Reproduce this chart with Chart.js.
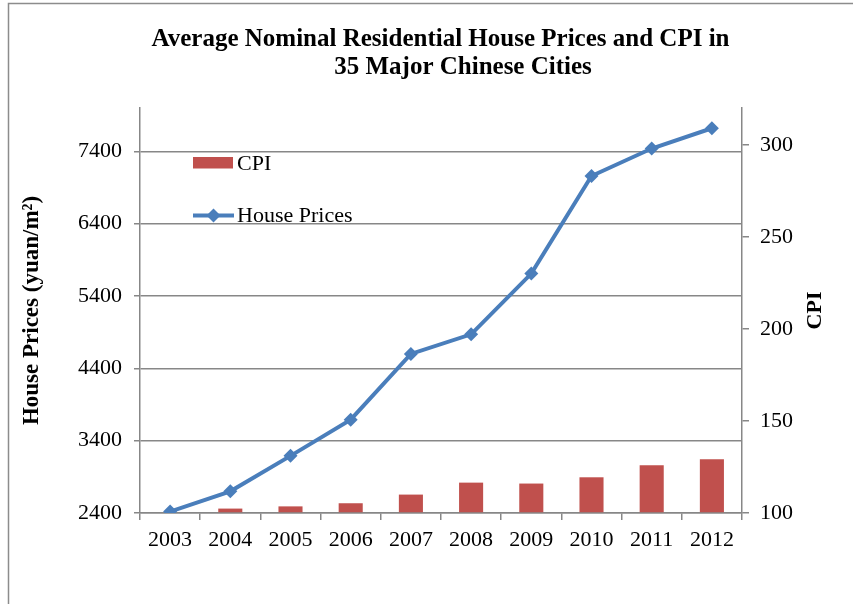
<!DOCTYPE html>
<html>
<head>
<meta charset="utf-8">
<title>House Prices and CPI</title>
<script src="https://cdn.jsdelivr.net/npm/chart.js@4.4.0/dist/chart.umd.min.js"></script>
<style>
  html, body { margin: 0; padding: 0; background: #fff; }
  #wrap { width: 853px; height: 604px; }
</style>
</head>
<body>
<div id="wrap"><canvas id="chart" width="853" height="604"></canvas></div>
<script>
// ===================== DATA ===================== //
const years = ["2003", "2004", "2005", "2006", "2007", "2008", "2009", "2010", "2011", "2012"];
const housePrices = [2420, 2700, 3190, 3690, 4600, 4870, 5710, 7060, 7440, 7720];
const cpi = [100, 102.4, 103.6, 105.3, 110, 116.5, 116, 119.4, 125.9, 129.2];
const priceTicks = [2400, 3400, 4400, 5400, 6400, 7400];
const cpiTicks = [100, 150, 200, 250, 300];
const titleLines = ["Average Nominal Residential House Prices and CPI in", "35 Major Chinese Cities"];

// ===================== STYLE ===================== //
const serif = "'Liberation Serif', 'Times New Roman', serif";
const axisGray = "#878787";
const barRed = "#C0504D";
const lineBlue = "#4A7EBB";

// Frame (left + top edge) and white background
const framePlugin = {
    id: "frame",
    beforeDraw(chart) {
        const ctx = chart.ctx;
        ctx.save();
        ctx.fillStyle = "#fff";
        ctx.fillRect(0, 0, chart.width, chart.height);
        ctx.strokeStyle = "#8c8c8c";
        ctx.lineWidth = 1.5;
        ctx.beginPath();
        ctx.moveTo(8.5, chart.height);
        ctx.lineTo(8.5, 3.5);
        ctx.lineTo(chart.width, 3.5);
        ctx.stroke();
        ctx.restore();
    }
};

// Title (two lines, Excel-style centering), legend inside plot, right axis title
const overlayPlugin = {
    id: "overlay",
    afterDraw(chart) {
        const ctx = chart.ctx;
        const area = chart.chartArea;
        const ds = chart.data.datasets;
        ctx.save();

        // ---- title ----
        ctx.font = "bold 25px " + serif;
        ctx.fillStyle = "#000";
        ctx.textAlign = "center";
        ctx.textBaseline = "alphabetic";
        ctx.fillText(titleLines[0], 440.5, 45.5);
        ctx.fillText(titleLines[1], 463, 73.5);

        // ---- legend ----
        const x0 = area.left + 53;
        ctx.font = "22px " + serif;
        ctx.textAlign = "left";

        // CPI (bar)
        ctx.fillStyle = ds[0].backgroundColor;
        ctx.fillRect(x0, 157, 40, 11.5);
        ctx.fillStyle = "#000";
        ctx.fillText(ds[0].label, x0 + 44, 170);

        // House Prices (line)
        const ly = 215.5;
        ctx.strokeStyle = ds[1].borderColor;
        ctx.lineWidth = 4;
        ctx.beginPath();
        ctx.moveTo(x0, ly);
        ctx.lineTo(x0 + 41, ly);
        ctx.stroke();
        ctx.fillStyle = ds[1].borderColor;
        ctx.beginPath();
        ctx.moveTo(x0 + 20.5, ly - 7);
        ctx.lineTo(x0 + 27.5, ly);
        ctx.lineTo(x0 + 20.5, ly + 7);
        ctx.lineTo(x0 + 13.5, ly);
        ctx.closePath();
        ctx.fill();
        ctx.fillStyle = "#000";
        ctx.fillText(ds[1].label, x0 + 44, 222);

        // ---- right axis title ----
        const y1 = chart.scales.y1;
        ctx.font = "bold 22px " + serif;
        ctx.textAlign = "center";
        ctx.textBaseline = "middle";
        ctx.translate(815, (area.top + area.bottom) / 2);
        ctx.rotate(-Math.PI / 2);
        ctx.fillText(y1.options.title.text, 0, 0);
        ctx.restore();
    }
};

// ===================== CHART ===================== //
const ctx = document.getElementById("chart").getContext("2d");

const chart = new Chart(ctx, {
    type: "bar",
    data: {
        labels: years,
        datasets: [
            {
                type: "bar",
                label: "CPI",
                data: cpi,
                yAxisID: "y1",
                backgroundColor: barRed,
                borderWidth: 0,
                categoryPercentage: 1,
                barPercentage: 0.4,
                base: 100,
                order: 2
            },
            {
                type: "line",
                label: "House Prices",
                data: housePrices,
                yAxisID: "y",
                borderColor: lineBlue,
                backgroundColor: lineBlue,
                borderWidth: 4,
                pointStyle: "rectRot",
                pointRadius: 7,
                pointBorderWidth: 0,
                pointBackgroundColor: lineBlue,
                tension: 0,
                order: 1
            }
        ]
    },
    options: {
        responsive: false,
        animation: false,
        layout: { padding: { top: 108 } },
        plugins: {
            legend: { display: false },
            tooltip: { enabled: false },
            title: { display: false }
        },
        scales: {
            x: {
                offset: true,
                grid: {
                    offset: true,
                    drawOnChartArea: false,
                    color: axisGray,
                    lineWidth: 1.5,
                    tickLength: 7
                },
                border: { color: axisGray, width: 1.5 },
                ticks: {
                    color: "#000",
                    font: { family: serif, size: 22 },
                    padding: 7,
                    maxRotation: 0,
                    autoSkip: false
                },
                afterFit: (s) => { s.height = 91; }
            },
            y: {
                position: "left",
                min: 2400,
                max: 8000,
                afterBuildTicks: (s) => { s.ticks = priceTicks.map(v => ({ value: v })); },
                grid: { color: axisGray, lineWidth: 1.5, tickLength: 6 },
                border: { color: axisGray, width: 1.5 },
                ticks: {
                    color: "#000",
                    font: { family: serif, size: 22 },
                    padding: 12,
                    callback: (v) => String(v)
                },
                title: {
                    display: true,
                    text: "House Prices (yuan/m²)",
                    color: "#000",
                    font: { family: serif, size: 23, weight: "bold" },
                    padding: { top: 18, bottom: 0 }
                },
                afterFit: (s) => { s.width = 140; }
            },
            y1: {
                position: "right",
                min: 100,
                max: 320,
                afterBuildTicks: (s) => { s.ticks = cpiTicks.map(v => ({ value: v })); },
                grid: { drawOnChartArea: false, color: axisGray, lineWidth: 1.5, tickLength: 7 },
                border: { color: axisGray, width: 1.5 },
                ticks: {
                    color: "#000",
                    font: { family: serif, size: 22 },
                    padding: 11,
                    callback: (v) => String(v)
                },
                title: { display: false, text: "CPI" },
                afterFit: (s) => { s.width = 111; }
            }
        }
    },
    plugins: [framePlugin, overlayPlugin]
});
</script>
</body>
</html>
